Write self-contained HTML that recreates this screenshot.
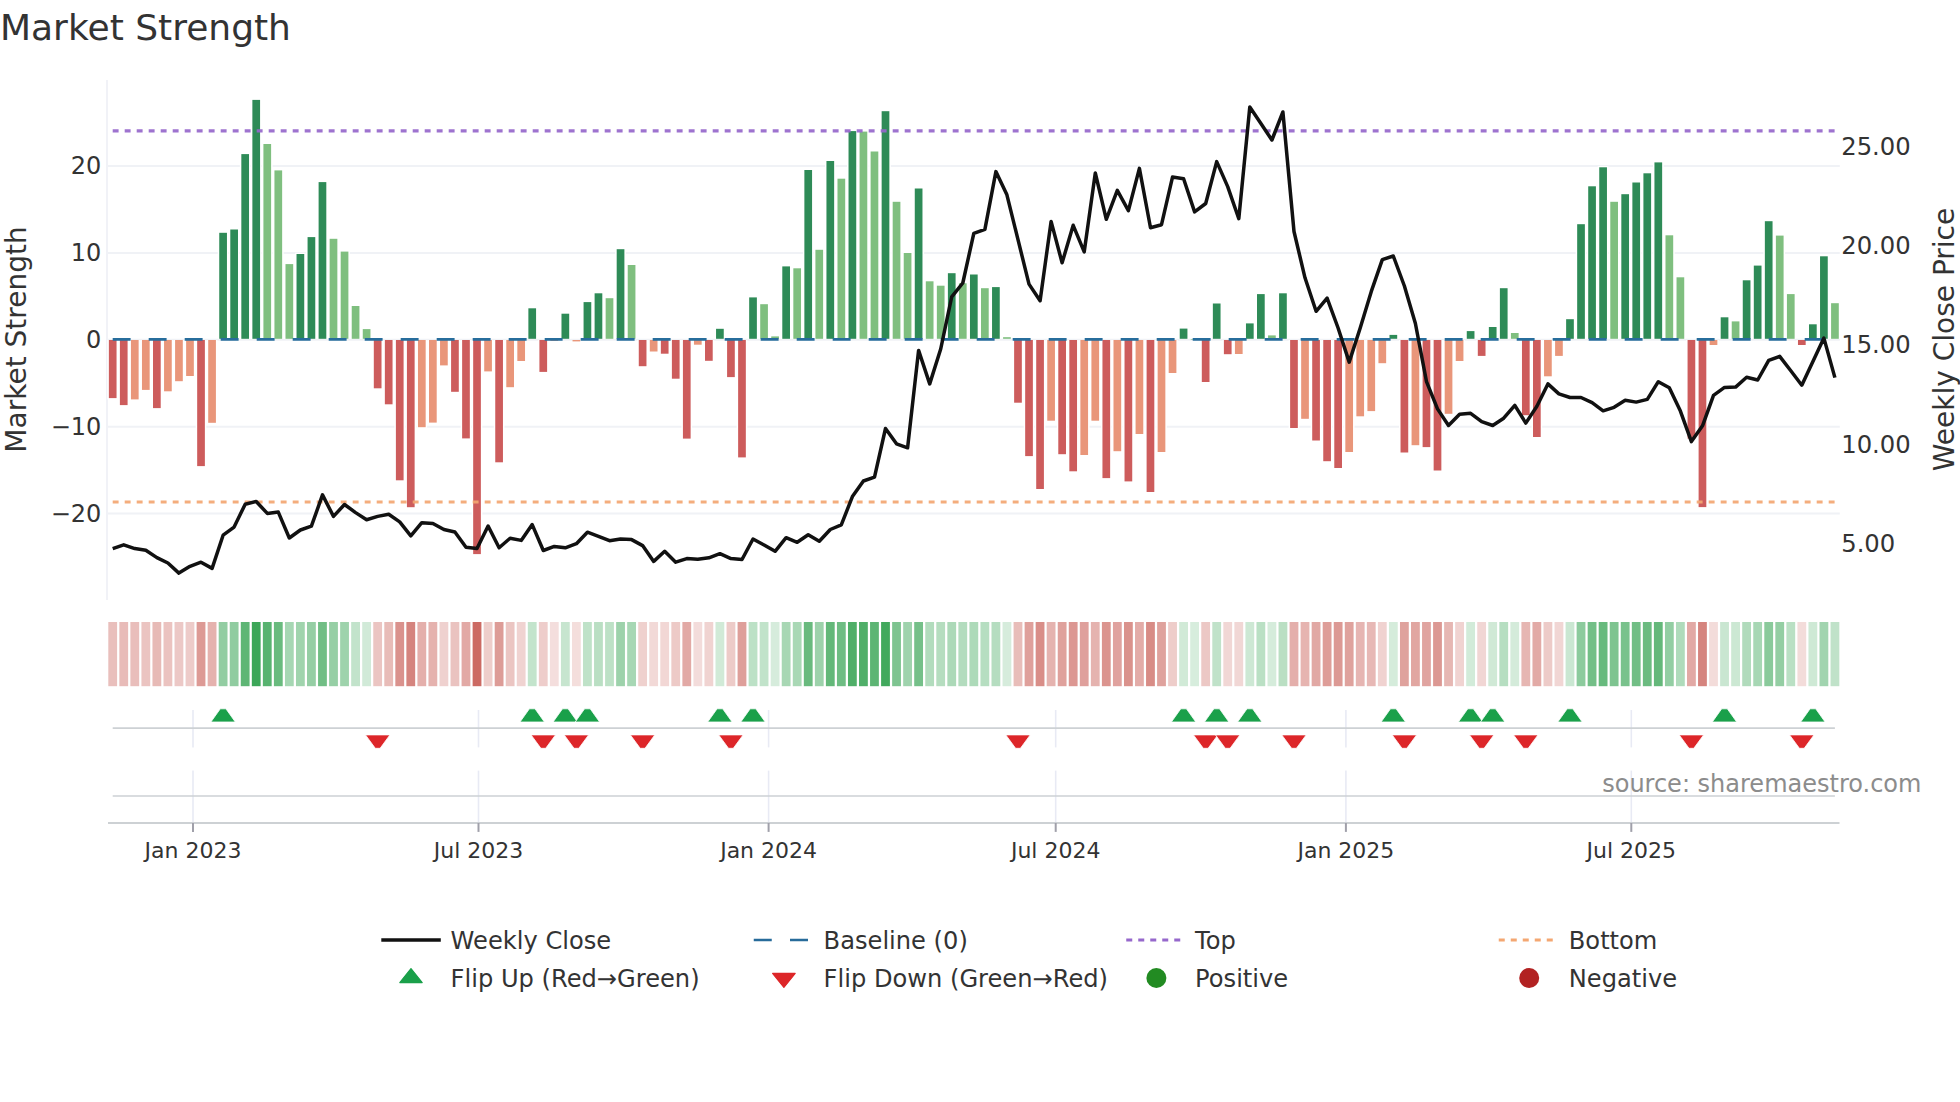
<!DOCTYPE html>
<html><head><meta charset="utf-8"><title>Market Strength</title>
<style>html,body{margin:0;padding:0;background:#fff}svg{display:block}text{font-family:"DejaVu Sans","Liberation Sans",sans-serif}</style></head><body>
<svg width="1960" height="1102" viewBox="0 0 1960 1102">
<rect width="1960" height="1102" fill="#fff"/>
<text x="0" y="40" font-size="36" fill="#333">Market Strength</text>
<line x1="108" x2="1839.8" y1="166.1" y2="166.1" stroke="#f0f2f6" stroke-width="2"/>
<line x1="108" x2="1839.8" y1="252.9" y2="252.9" stroke="#f0f2f6" stroke-width="2"/>
<line x1="108" x2="1839.8" y1="339.8" y2="339.8" stroke="#f0f2f6" stroke-width="2"/>
<line x1="108" x2="1839.8" y1="426.7" y2="426.7" stroke="#f0f2f6" stroke-width="2"/>
<line x1="108" x2="1839.8" y1="513.5" y2="513.5" stroke="#f0f2f6" stroke-width="2"/>
<line x1="107" x2="107" y1="80" y2="600" stroke="#f1f2f7" stroke-width="2"/>
<text x="101.4" y="174.1" font-size="24" fill="#333" text-anchor="end">20</text>
<text x="101.4" y="260.9" font-size="24" fill="#333" text-anchor="end">10</text>
<text x="101.4" y="347.8" font-size="24" fill="#333" text-anchor="end">0</text>
<text x="101.4" y="434.7" font-size="24" fill="#333" text-anchor="end">−10</text>
<text x="101.4" y="521.5" font-size="24" fill="#333" text-anchor="end">−20</text>
<text x="1841.2" y="154.9" font-size="24.3" fill="#333">25.00</text>
<text x="1841.2" y="253.8" font-size="24.3" fill="#333">20.00</text>
<text x="1841.2" y="352.9" font-size="24.3" fill="#333">15.00</text>
<text x="1841.2" y="452.9" font-size="24.3" fill="#333">10.00</text>
<text x="1841.2" y="551.9" font-size="24.3" fill="#333">5.00</text>
<text transform="translate(25.7,339.5) rotate(-90)" font-size="28" fill="#333" text-anchor="middle">Market Strength</text>
<text transform="translate(1953.9,339.5) rotate(-90)" font-size="28" fill="#333" text-anchor="middle">Weekly Close Price</text>
<rect x="107.35" y="340.0" width="10.7" height="59.3" fill="#fff"/>
<rect x="118.39" y="340.0" width="10.7" height="66.3" fill="#fff"/>
<rect x="129.43" y="340.0" width="10.7" height="60.6" fill="#fff"/>
<rect x="140.47" y="340.0" width="10.7" height="51.1" fill="#fff"/>
<rect x="151.51" y="340.0" width="10.7" height="69.3" fill="#fff"/>
<rect x="162.55" y="340.0" width="10.7" height="52.5" fill="#fff"/>
<rect x="173.59" y="340.0" width="10.7" height="42.4" fill="#fff"/>
<rect x="184.63" y="340.0" width="10.7" height="37.2" fill="#fff"/>
<rect x="195.67" y="340.0" width="10.7" height="127.3" fill="#fff"/>
<rect x="206.71" y="340.0" width="10.7" height="84.0" fill="#fff"/>
<rect x="217.75" y="231.6" width="10.7" height="107.2" fill="#fff"/>
<rect x="228.79" y="228.3" width="10.7" height="110.5" fill="#fff"/>
<rect x="239.83" y="152.9" width="10.7" height="185.9" fill="#fff"/>
<rect x="250.87" y="98.7" width="10.7" height="240.1" fill="#fff"/>
<rect x="261.91" y="142.8" width="10.7" height="196.0" fill="#fff"/>
<rect x="272.95" y="169.2" width="10.7" height="169.6" fill="#fff"/>
<rect x="283.99" y="262.9" width="10.7" height="75.9" fill="#fff"/>
<rect x="295.03" y="252.8" width="10.7" height="86.0" fill="#fff"/>
<rect x="306.07" y="235.9" width="10.7" height="102.9" fill="#fff"/>
<rect x="317.11" y="180.9" width="10.7" height="157.9" fill="#fff"/>
<rect x="328.15" y="237.6" width="10.7" height="101.2" fill="#fff"/>
<rect x="339.19" y="250.4" width="10.7" height="88.4" fill="#fff"/>
<rect x="350.23" y="304.8" width="10.7" height="34.0" fill="#fff"/>
<rect x="361.27" y="327.9" width="10.7" height="10.9" fill="#fff"/>
<rect x="372.31" y="340.0" width="10.7" height="49.5" fill="#fff"/>
<rect x="383.35" y="340.0" width="10.7" height="65.5" fill="#fff"/>
<rect x="394.39" y="340.0" width="10.7" height="141.5" fill="#fff"/>
<rect x="405.43" y="340.0" width="10.7" height="168.4" fill="#fff"/>
<rect x="416.47" y="340.0" width="10.7" height="88.4" fill="#fff"/>
<rect x="427.51" y="340.0" width="10.7" height="83.8" fill="#fff"/>
<rect x="438.55" y="340.0" width="10.7" height="26.6" fill="#fff"/>
<rect x="449.59" y="340.0" width="10.7" height="53.0" fill="#fff"/>
<rect x="460.63" y="340.0" width="10.7" height="99.6" fill="#fff"/>
<rect x="471.67" y="340.0" width="10.7" height="215.3" fill="#fff"/>
<rect x="482.71" y="340.0" width="10.7" height="32.6" fill="#fff"/>
<rect x="493.75" y="340.0" width="10.7" height="123.5" fill="#fff"/>
<rect x="504.79" y="340.0" width="10.7" height="48.4" fill="#fff"/>
<rect x="515.83" y="340.0" width="10.7" height="22.2" fill="#fff"/>
<rect x="526.87" y="307.1" width="10.7" height="31.7" fill="#fff"/>
<rect x="537.91" y="340.0" width="10.7" height="33.1" fill="#fff"/>
<rect x="559.99" y="312.5" width="10.7" height="26.3" fill="#fff"/>
<rect x="582.07" y="300.9" width="10.7" height="37.9" fill="#fff"/>
<rect x="593.11" y="292.1" width="10.7" height="46.7" fill="#fff"/>
<rect x="604.15" y="297.0" width="10.7" height="41.8" fill="#fff"/>
<rect x="615.19" y="248.0" width="10.7" height="90.8" fill="#fff"/>
<rect x="626.23" y="263.8" width="10.7" height="75.0" fill="#fff"/>
<rect x="637.27" y="340.0" width="10.7" height="27.4" fill="#fff"/>
<rect x="648.31" y="340.0" width="10.7" height="12.7" fill="#fff"/>
<rect x="659.35" y="340.0" width="10.7" height="14.9" fill="#fff"/>
<rect x="670.39" y="340.0" width="10.7" height="39.9" fill="#fff"/>
<rect x="681.43" y="340.0" width="10.7" height="99.8" fill="#fff"/>
<rect x="692.47" y="340.0" width="10.7" height="5.9" fill="#fff"/>
<rect x="703.51" y="340.0" width="10.7" height="22.0" fill="#fff"/>
<rect x="714.55" y="327.6" width="10.7" height="11.2" fill="#fff"/>
<rect x="725.59" y="340.0" width="10.7" height="38.3" fill="#fff"/>
<rect x="736.63" y="340.0" width="10.7" height="118.6" fill="#fff"/>
<rect x="747.67" y="296.2" width="10.7" height="42.6" fill="#fff"/>
<rect x="758.71" y="303.0" width="10.7" height="35.8" fill="#fff"/>
<rect x="769.75" y="335.2" width="10.7" height="3.6" fill="#fff"/>
<rect x="780.79" y="265.2" width="10.7" height="73.6" fill="#fff"/>
<rect x="791.83" y="267.1" width="10.7" height="71.7" fill="#fff"/>
<rect x="802.87" y="168.8" width="10.7" height="170.0" fill="#fff"/>
<rect x="813.91" y="248.6" width="10.7" height="90.2" fill="#fff"/>
<rect x="824.95" y="159.8" width="10.7" height="179.0" fill="#fff"/>
<rect x="835.99" y="177.5" width="10.7" height="161.3" fill="#fff"/>
<rect x="847.03" y="129.9" width="10.7" height="208.9" fill="#fff"/>
<rect x="858.07" y="130.4" width="10.7" height="208.4" fill="#fff"/>
<rect x="869.11" y="150.3" width="10.7" height="188.5" fill="#fff"/>
<rect x="880.15" y="110.0" width="10.7" height="228.8" fill="#fff"/>
<rect x="891.19" y="200.6" width="10.7" height="138.2" fill="#fff"/>
<rect x="902.23" y="251.8" width="10.7" height="87.0" fill="#fff"/>
<rect x="913.27" y="187.3" width="10.7" height="151.5" fill="#fff"/>
<rect x="924.31" y="280.1" width="10.7" height="58.7" fill="#fff"/>
<rect x="935.35" y="284.5" width="10.7" height="54.3" fill="#fff"/>
<rect x="946.39" y="272.0" width="10.7" height="66.8" fill="#fff"/>
<rect x="957.43" y="282.1" width="10.7" height="56.7" fill="#fff"/>
<rect x="968.47" y="273.3" width="10.7" height="65.5" fill="#fff"/>
<rect x="979.51" y="287.0" width="10.7" height="51.8" fill="#fff"/>
<rect x="990.55" y="285.9" width="10.7" height="52.9" fill="#fff"/>
<rect x="1012.63" y="340.0" width="10.7" height="63.9" fill="#fff"/>
<rect x="1023.67" y="340.0" width="10.7" height="117.3" fill="#fff"/>
<rect x="1034.71" y="340.0" width="10.7" height="150.2" fill="#fff"/>
<rect x="1045.75" y="340.0" width="10.7" height="81.9" fill="#fff"/>
<rect x="1056.79" y="340.0" width="10.7" height="115.4" fill="#fff"/>
<rect x="1067.83" y="340.0" width="10.7" height="132.5" fill="#fff"/>
<rect x="1078.87" y="340.0" width="10.7" height="116.2" fill="#fff"/>
<rect x="1089.91" y="340.0" width="10.7" height="81.9" fill="#fff"/>
<rect x="1100.95" y="340.0" width="10.7" height="139.3" fill="#fff"/>
<rect x="1111.99" y="340.0" width="10.7" height="112.4" fill="#fff"/>
<rect x="1123.03" y="340.0" width="10.7" height="142.6" fill="#fff"/>
<rect x="1134.07" y="340.0" width="10.7" height="95.2" fill="#fff"/>
<rect x="1145.11" y="340.0" width="10.7" height="153.2" fill="#fff"/>
<rect x="1156.15" y="340.0" width="10.7" height="113.2" fill="#fff"/>
<rect x="1167.19" y="340.0" width="10.7" height="34.2" fill="#fff"/>
<rect x="1178.23" y="327.4" width="10.7" height="11.4" fill="#fff"/>
<rect x="1200.31" y="340.0" width="10.7" height="43.2" fill="#fff"/>
<rect x="1211.35" y="302.3" width="10.7" height="36.5" fill="#fff"/>
<rect x="1222.39" y="340.0" width="10.7" height="15.4" fill="#fff"/>
<rect x="1233.43" y="340.0" width="10.7" height="15.2" fill="#fff"/>
<rect x="1244.47" y="322.2" width="10.7" height="16.6" fill="#fff"/>
<rect x="1255.51" y="292.9" width="10.7" height="45.9" fill="#fff"/>
<rect x="1266.55" y="334.2" width="10.7" height="4.6" fill="#fff"/>
<rect x="1277.59" y="292.1" width="10.7" height="46.7" fill="#fff"/>
<rect x="1288.63" y="340.0" width="10.7" height="89.2" fill="#fff"/>
<rect x="1299.67" y="340.0" width="10.7" height="80.0" fill="#fff"/>
<rect x="1310.71" y="340.0" width="10.7" height="101.7" fill="#fff"/>
<rect x="1321.75" y="340.0" width="10.7" height="122.4" fill="#fff"/>
<rect x="1332.79" y="340.0" width="10.7" height="129.2" fill="#fff"/>
<rect x="1343.83" y="340.0" width="10.7" height="113.2" fill="#fff"/>
<rect x="1354.87" y="340.0" width="10.7" height="77.5" fill="#fff"/>
<rect x="1365.91" y="340.0" width="10.7" height="72.3" fill="#fff"/>
<rect x="1376.95" y="340.0" width="10.7" height="24.4" fill="#fff"/>
<rect x="1387.99" y="333.7" width="10.7" height="5.1" fill="#fff"/>
<rect x="1399.03" y="340.0" width="10.7" height="113.7" fill="#fff"/>
<rect x="1410.07" y="340.0" width="10.7" height="106.4" fill="#fff"/>
<rect x="1421.11" y="340.0" width="10.7" height="108.3" fill="#fff"/>
<rect x="1432.15" y="340.0" width="10.7" height="131.7" fill="#fff"/>
<rect x="1443.19" y="340.0" width="10.7" height="75.0" fill="#fff"/>
<rect x="1454.23" y="340.0" width="10.7" height="22.2" fill="#fff"/>
<rect x="1465.27" y="329.9" width="10.7" height="8.9" fill="#fff"/>
<rect x="1476.31" y="340.0" width="10.7" height="17.1" fill="#fff"/>
<rect x="1487.35" y="325.8" width="10.7" height="13.0" fill="#fff"/>
<rect x="1498.39" y="287.0" width="10.7" height="51.8" fill="#fff"/>
<rect x="1509.43" y="331.8" width="10.7" height="7.0" fill="#fff"/>
<rect x="1520.47" y="340.0" width="10.7" height="76.4" fill="#fff"/>
<rect x="1531.51" y="340.0" width="10.7" height="98.2" fill="#fff"/>
<rect x="1542.55" y="340.0" width="10.7" height="37.5" fill="#fff"/>
<rect x="1553.59" y="340.0" width="10.7" height="17.1" fill="#fff"/>
<rect x="1564.63" y="318.0" width="10.7" height="20.8" fill="#fff"/>
<rect x="1575.67" y="223.0" width="10.7" height="115.8" fill="#fff"/>
<rect x="1586.71" y="185.1" width="10.7" height="153.7" fill="#fff"/>
<rect x="1597.75" y="166.1" width="10.7" height="172.7" fill="#fff"/>
<rect x="1608.79" y="200.6" width="10.7" height="138.2" fill="#fff"/>
<rect x="1619.83" y="193.0" width="10.7" height="145.8" fill="#fff"/>
<rect x="1630.87" y="181.3" width="10.7" height="157.5" fill="#fff"/>
<rect x="1641.91" y="172.1" width="10.7" height="166.7" fill="#fff"/>
<rect x="1652.95" y="161.2" width="10.7" height="177.6" fill="#fff"/>
<rect x="1663.99" y="234.1" width="10.7" height="104.7" fill="#fff"/>
<rect x="1675.03" y="276.1" width="10.7" height="62.7" fill="#fff"/>
<rect x="1686.07" y="340.0" width="10.7" height="99.8" fill="#fff"/>
<rect x="1697.11" y="340.0" width="10.7" height="168.3" fill="#fff"/>
<rect x="1708.15" y="340.0" width="10.7" height="6.2" fill="#fff"/>
<rect x="1719.19" y="316.1" width="10.7" height="22.7" fill="#fff"/>
<rect x="1730.23" y="320.2" width="10.7" height="18.6" fill="#fff"/>
<rect x="1741.27" y="279.1" width="10.7" height="59.7" fill="#fff"/>
<rect x="1752.31" y="264.4" width="10.7" height="74.4" fill="#fff"/>
<rect x="1763.35" y="220.0" width="10.7" height="118.8" fill="#fff"/>
<rect x="1774.39" y="234.4" width="10.7" height="104.4" fill="#fff"/>
<rect x="1785.43" y="292.9" width="10.7" height="45.9" fill="#fff"/>
<rect x="1796.47" y="340.0" width="10.7" height="6.2" fill="#fff"/>
<rect x="1807.51" y="323.1" width="10.7" height="15.7" fill="#fff"/>
<rect x="1818.55" y="255.1" width="10.7" height="83.7" fill="#fff"/>
<rect x="1829.59" y="302.0" width="10.7" height="36.8" fill="#fff"/>
<rect x="108.85" y="340.0" width="7.7" height="58.1" fill="#cd5c5c"/>
<rect x="119.89" y="340.0" width="7.7" height="65.1" fill="#cd5c5c"/>
<rect x="130.93" y="340.0" width="7.7" height="59.4" fill="#e9967a"/>
<rect x="141.97" y="340.0" width="7.7" height="49.9" fill="#e9967a"/>
<rect x="153.01" y="340.0" width="7.7" height="68.1" fill="#cd5c5c"/>
<rect x="164.05" y="340.0" width="7.7" height="51.3" fill="#e9967a"/>
<rect x="175.09" y="340.0" width="7.7" height="41.2" fill="#e9967a"/>
<rect x="186.13" y="340.0" width="7.7" height="36.0" fill="#e9967a"/>
<rect x="197.17" y="340.0" width="7.7" height="126.1" fill="#cd5c5c"/>
<rect x="208.21" y="340.0" width="7.7" height="82.8" fill="#e9967a"/>
<rect x="219.25" y="232.8" width="7.7" height="106.0" fill="#2e8b57"/>
<rect x="230.29" y="229.5" width="7.7" height="109.3" fill="#2e8b57"/>
<rect x="241.33" y="154.1" width="7.7" height="184.7" fill="#2e8b57"/>
<rect x="252.37" y="99.9" width="7.7" height="238.9" fill="#2e8b57"/>
<rect x="263.41" y="144.0" width="7.7" height="194.8" fill="#7fbf7f"/>
<rect x="274.45" y="170.4" width="7.7" height="168.4" fill="#7fbf7f"/>
<rect x="285.49" y="264.1" width="7.7" height="74.7" fill="#7fbf7f"/>
<rect x="296.53" y="254.0" width="7.7" height="84.8" fill="#2e8b57"/>
<rect x="307.57" y="237.1" width="7.7" height="101.7" fill="#2e8b57"/>
<rect x="318.61" y="182.1" width="7.7" height="156.7" fill="#2e8b57"/>
<rect x="329.65" y="238.8" width="7.7" height="100.0" fill="#7fbf7f"/>
<rect x="340.69" y="251.6" width="7.7" height="87.2" fill="#7fbf7f"/>
<rect x="351.73" y="306.0" width="7.7" height="32.8" fill="#7fbf7f"/>
<rect x="362.77" y="329.1" width="7.7" height="9.7" fill="#7fbf7f"/>
<rect x="373.81" y="340.0" width="7.7" height="48.3" fill="#cd5c5c"/>
<rect x="384.85" y="340.0" width="7.7" height="64.3" fill="#cd5c5c"/>
<rect x="395.89" y="340.0" width="7.7" height="140.3" fill="#cd5c5c"/>
<rect x="406.93" y="340.0" width="7.7" height="167.2" fill="#cd5c5c"/>
<rect x="417.97" y="340.0" width="7.7" height="87.2" fill="#e9967a"/>
<rect x="429.01" y="340.0" width="7.7" height="82.6" fill="#e9967a"/>
<rect x="440.05" y="340.0" width="7.7" height="25.4" fill="#e9967a"/>
<rect x="451.09" y="340.0" width="7.7" height="51.8" fill="#cd5c5c"/>
<rect x="462.13" y="340.0" width="7.7" height="98.4" fill="#cd5c5c"/>
<rect x="473.17" y="340.0" width="7.7" height="214.1" fill="#cd5c5c"/>
<rect x="484.21" y="340.0" width="7.7" height="31.4" fill="#e9967a"/>
<rect x="495.25" y="340.0" width="7.7" height="122.3" fill="#cd5c5c"/>
<rect x="506.29" y="340.0" width="7.7" height="47.2" fill="#e9967a"/>
<rect x="517.33" y="340.0" width="7.7" height="21.0" fill="#e9967a"/>
<rect x="528.37" y="308.3" width="7.7" height="30.5" fill="#2e8b57"/>
<rect x="539.41" y="340.0" width="7.7" height="31.9" fill="#cd5c5c"/>
<rect x="550.45" y="340.0" width="7.7" height="0.9" fill="#e9967a"/>
<rect x="561.49" y="313.7" width="7.7" height="25.1" fill="#2e8b57"/>
<rect x="572.53" y="340.0" width="7.7" height="1.4" fill="#e9967a"/>
<rect x="583.57" y="302.1" width="7.7" height="36.7" fill="#2e8b57"/>
<rect x="594.61" y="293.3" width="7.7" height="45.5" fill="#2e8b57"/>
<rect x="605.65" y="298.2" width="7.7" height="40.6" fill="#7fbf7f"/>
<rect x="616.69" y="249.2" width="7.7" height="89.6" fill="#2e8b57"/>
<rect x="627.73" y="265.0" width="7.7" height="73.8" fill="#7fbf7f"/>
<rect x="638.77" y="340.0" width="7.7" height="26.2" fill="#cd5c5c"/>
<rect x="649.81" y="340.0" width="7.7" height="11.5" fill="#e9967a"/>
<rect x="660.85" y="340.0" width="7.7" height="13.7" fill="#cd5c5c"/>
<rect x="671.89" y="340.0" width="7.7" height="38.7" fill="#cd5c5c"/>
<rect x="682.93" y="340.0" width="7.7" height="98.6" fill="#cd5c5c"/>
<rect x="693.97" y="340.0" width="7.7" height="4.7" fill="#e9967a"/>
<rect x="705.01" y="340.0" width="7.7" height="20.8" fill="#cd5c5c"/>
<rect x="716.05" y="328.8" width="7.7" height="10.0" fill="#2e8b57"/>
<rect x="727.09" y="340.0" width="7.7" height="37.1" fill="#cd5c5c"/>
<rect x="738.13" y="340.0" width="7.7" height="117.4" fill="#cd5c5c"/>
<rect x="749.17" y="297.4" width="7.7" height="41.4" fill="#2e8b57"/>
<rect x="760.21" y="304.2" width="7.7" height="34.6" fill="#7fbf7f"/>
<rect x="771.25" y="336.4" width="7.7" height="2.4" fill="#7fbf7f"/>
<rect x="782.29" y="266.4" width="7.7" height="72.4" fill="#2e8b57"/>
<rect x="793.33" y="268.3" width="7.7" height="70.5" fill="#7fbf7f"/>
<rect x="804.37" y="170.0" width="7.7" height="168.8" fill="#2e8b57"/>
<rect x="815.41" y="249.8" width="7.7" height="89.0" fill="#7fbf7f"/>
<rect x="826.45" y="161.0" width="7.7" height="177.8" fill="#2e8b57"/>
<rect x="837.49" y="178.7" width="7.7" height="160.1" fill="#7fbf7f"/>
<rect x="848.53" y="131.1" width="7.7" height="207.7" fill="#2e8b57"/>
<rect x="859.57" y="131.6" width="7.7" height="207.2" fill="#7fbf7f"/>
<rect x="870.61" y="151.5" width="7.7" height="187.3" fill="#7fbf7f"/>
<rect x="881.65" y="111.2" width="7.7" height="227.6" fill="#2e8b57"/>
<rect x="892.69" y="201.8" width="7.7" height="137.0" fill="#7fbf7f"/>
<rect x="903.73" y="253.0" width="7.7" height="85.8" fill="#7fbf7f"/>
<rect x="914.77" y="188.5" width="7.7" height="150.3" fill="#2e8b57"/>
<rect x="925.81" y="281.3" width="7.7" height="57.5" fill="#7fbf7f"/>
<rect x="936.85" y="285.7" width="7.7" height="53.1" fill="#7fbf7f"/>
<rect x="947.89" y="273.2" width="7.7" height="65.6" fill="#2e8b57"/>
<rect x="958.93" y="283.3" width="7.7" height="55.5" fill="#7fbf7f"/>
<rect x="969.97" y="274.5" width="7.7" height="64.3" fill="#2e8b57"/>
<rect x="981.01" y="288.2" width="7.7" height="50.6" fill="#7fbf7f"/>
<rect x="992.05" y="287.1" width="7.7" height="51.7" fill="#2e8b57"/>
<rect x="1003.09" y="337.2" width="7.7" height="1.6" fill="#7fbf7f"/>
<rect x="1014.13" y="340.0" width="7.7" height="62.7" fill="#cd5c5c"/>
<rect x="1025.17" y="340.0" width="7.7" height="116.1" fill="#cd5c5c"/>
<rect x="1036.21" y="340.0" width="7.7" height="149.0" fill="#cd5c5c"/>
<rect x="1047.25" y="340.0" width="7.7" height="80.7" fill="#e9967a"/>
<rect x="1058.29" y="340.0" width="7.7" height="114.2" fill="#cd5c5c"/>
<rect x="1069.33" y="340.0" width="7.7" height="131.3" fill="#cd5c5c"/>
<rect x="1080.37" y="340.0" width="7.7" height="115.0" fill="#e9967a"/>
<rect x="1091.41" y="340.0" width="7.7" height="80.7" fill="#e9967a"/>
<rect x="1102.45" y="340.0" width="7.7" height="138.1" fill="#cd5c5c"/>
<rect x="1113.49" y="340.0" width="7.7" height="111.2" fill="#e9967a"/>
<rect x="1124.53" y="340.0" width="7.7" height="141.4" fill="#cd5c5c"/>
<rect x="1135.57" y="340.0" width="7.7" height="94.0" fill="#e9967a"/>
<rect x="1146.61" y="340.0" width="7.7" height="152.0" fill="#cd5c5c"/>
<rect x="1157.65" y="340.0" width="7.7" height="112.0" fill="#e9967a"/>
<rect x="1168.69" y="340.0" width="7.7" height="33.0" fill="#e9967a"/>
<rect x="1179.73" y="328.6" width="7.7" height="10.2" fill="#2e8b57"/>
<rect x="1190.77" y="339.0" width="7.7" height="0.6" fill="#7fbf7f"/>
<rect x="1201.81" y="340.0" width="7.7" height="42.0" fill="#cd5c5c"/>
<rect x="1212.85" y="303.5" width="7.7" height="35.3" fill="#2e8b57"/>
<rect x="1223.89" y="340.0" width="7.7" height="14.2" fill="#cd5c5c"/>
<rect x="1234.93" y="340.0" width="7.7" height="14.0" fill="#e9967a"/>
<rect x="1245.97" y="323.4" width="7.7" height="15.4" fill="#2e8b57"/>
<rect x="1257.01" y="294.1" width="7.7" height="44.7" fill="#2e8b57"/>
<rect x="1268.05" y="335.4" width="7.7" height="3.4" fill="#7fbf7f"/>
<rect x="1279.09" y="293.3" width="7.7" height="45.5" fill="#2e8b57"/>
<rect x="1290.13" y="340.0" width="7.7" height="88.0" fill="#cd5c5c"/>
<rect x="1301.17" y="340.0" width="7.7" height="78.8" fill="#e9967a"/>
<rect x="1312.21" y="340.0" width="7.7" height="100.5" fill="#cd5c5c"/>
<rect x="1323.25" y="340.0" width="7.7" height="121.2" fill="#cd5c5c"/>
<rect x="1334.29" y="340.0" width="7.7" height="128.0" fill="#cd5c5c"/>
<rect x="1345.33" y="340.0" width="7.7" height="112.0" fill="#e9967a"/>
<rect x="1356.37" y="340.0" width="7.7" height="76.3" fill="#e9967a"/>
<rect x="1367.41" y="340.0" width="7.7" height="71.1" fill="#e9967a"/>
<rect x="1378.45" y="340.0" width="7.7" height="23.2" fill="#e9967a"/>
<rect x="1389.49" y="334.9" width="7.7" height="3.9" fill="#2e8b57"/>
<rect x="1400.53" y="340.0" width="7.7" height="112.5" fill="#cd5c5c"/>
<rect x="1411.57" y="340.0" width="7.7" height="105.2" fill="#e9967a"/>
<rect x="1422.61" y="340.0" width="7.7" height="107.1" fill="#cd5c5c"/>
<rect x="1433.65" y="340.0" width="7.7" height="130.5" fill="#cd5c5c"/>
<rect x="1444.69" y="340.0" width="7.7" height="73.8" fill="#e9967a"/>
<rect x="1455.73" y="340.0" width="7.7" height="21.0" fill="#e9967a"/>
<rect x="1466.77" y="331.1" width="7.7" height="7.7" fill="#2e8b57"/>
<rect x="1477.81" y="340.0" width="7.7" height="15.9" fill="#cd5c5c"/>
<rect x="1488.85" y="327.0" width="7.7" height="11.8" fill="#2e8b57"/>
<rect x="1499.89" y="288.2" width="7.7" height="50.6" fill="#2e8b57"/>
<rect x="1510.93" y="333.0" width="7.7" height="5.8" fill="#7fbf7f"/>
<rect x="1521.97" y="340.0" width="7.7" height="75.2" fill="#cd5c5c"/>
<rect x="1533.01" y="340.0" width="7.7" height="97.0" fill="#cd5c5c"/>
<rect x="1544.05" y="340.0" width="7.7" height="36.3" fill="#e9967a"/>
<rect x="1555.09" y="340.0" width="7.7" height="15.9" fill="#e9967a"/>
<rect x="1566.13" y="319.2" width="7.7" height="19.6" fill="#2e8b57"/>
<rect x="1577.17" y="224.2" width="7.7" height="114.6" fill="#2e8b57"/>
<rect x="1588.21" y="186.3" width="7.7" height="152.5" fill="#2e8b57"/>
<rect x="1599.25" y="167.3" width="7.7" height="171.5" fill="#2e8b57"/>
<rect x="1610.29" y="201.8" width="7.7" height="137.0" fill="#7fbf7f"/>
<rect x="1621.33" y="194.2" width="7.7" height="144.6" fill="#2e8b57"/>
<rect x="1632.37" y="182.5" width="7.7" height="156.3" fill="#2e8b57"/>
<rect x="1643.41" y="173.3" width="7.7" height="165.5" fill="#2e8b57"/>
<rect x="1654.45" y="162.4" width="7.7" height="176.4" fill="#2e8b57"/>
<rect x="1665.49" y="235.3" width="7.7" height="103.5" fill="#7fbf7f"/>
<rect x="1676.53" y="277.3" width="7.7" height="61.5" fill="#7fbf7f"/>
<rect x="1687.57" y="340.0" width="7.7" height="98.6" fill="#cd5c5c"/>
<rect x="1698.61" y="340.0" width="7.7" height="167.1" fill="#cd5c5c"/>
<rect x="1709.65" y="340.0" width="7.7" height="5.0" fill="#e9967a"/>
<rect x="1720.69" y="317.3" width="7.7" height="21.5" fill="#2e8b57"/>
<rect x="1731.73" y="321.4" width="7.7" height="17.4" fill="#7fbf7f"/>
<rect x="1742.77" y="280.3" width="7.7" height="58.5" fill="#2e8b57"/>
<rect x="1753.81" y="265.6" width="7.7" height="73.2" fill="#2e8b57"/>
<rect x="1764.85" y="221.2" width="7.7" height="117.6" fill="#2e8b57"/>
<rect x="1775.89" y="235.6" width="7.7" height="103.2" fill="#7fbf7f"/>
<rect x="1786.93" y="294.1" width="7.7" height="44.7" fill="#7fbf7f"/>
<rect x="1797.97" y="340.0" width="7.7" height="5.0" fill="#cd5c5c"/>
<rect x="1809.01" y="324.3" width="7.7" height="14.5" fill="#2e8b57"/>
<rect x="1820.05" y="256.3" width="7.7" height="82.5" fill="#2e8b57"/>
<rect x="1831.09" y="303.2" width="7.7" height="35.6" fill="#7fbf7f"/>
<line x1="112.7" x2="1834.9" y1="130.9" y2="130.9" stroke="#9668cc" stroke-width="3.2" stroke-dasharray="5.9 6.1" opacity="0.92"/>
<line x1="112.7" x2="1834.9" y1="502" y2="502" stroke="#f4a772" stroke-width="3.2" stroke-dasharray="5.9 6.1" opacity="0.92"/>
<line x1="112.7" x2="1834.9" y1="339.4" y2="339.4" stroke="#276d9c" stroke-width="2.6" stroke-dasharray="17.9 18.1"/>
<polyline points="112.7,548.6 123.7,544.8 134.8,548.6 145.8,550.2 156.9,557.6 167.9,563.0 178.9,573.1 190.0,566.3 201.0,562.2 212.1,568.4 223.1,535.2 234.1,527.1 245.2,504.2 256.2,501.5 267.3,513.4 278.3,512.1 289.3,538.0 300.4,530.0 311.4,526.2 322.5,494.9 333.5,516.4 344.5,504.5 355.6,512.6 366.6,519.7 377.7,516.4 388.7,514.3 399.7,521.9 410.8,535.8 421.8,522.7 432.9,523.5 443.9,529.5 454.9,532.0 466.0,547.2 477.0,548.6 488.1,526.0 499.1,547.8 510.1,538.2 521.2,540.4 532.2,524.6 543.3,550.5 554.3,546.4 565.3,547.8 576.4,543.7 587.4,532.2 598.5,536.3 609.5,540.7 620.5,539.0 631.6,539.6 642.6,545.6 653.7,561.4 664.7,551.3 675.7,562.2 686.8,558.6 697.8,559.2 708.9,557.8 719.9,553.7 730.9,558.6 742.0,559.5 753.0,539.0 764.1,545.0 775.1,551.3 786.1,537.7 797.2,542.3 808.2,534.7 819.3,541.2 830.3,529.5 841.3,524.9 852.4,496.6 863.4,481.0 874.5,477.2 885.5,428.5 896.5,443.8 907.6,447.8 918.6,350.4 929.7,383.9 940.7,349.0 951.7,296.9 962.8,283.0 973.8,233.4 984.9,229.3 995.9,171.6 1006.9,194.8 1018.0,239.7 1029.0,284.1 1040.1,300.7 1051.1,221.4 1062.1,262.8 1073.2,225.3 1084.2,251.9 1095.3,173.0 1106.3,219.3 1117.3,190.4 1128.4,210.6 1139.4,168.4 1150.5,227.7 1161.5,224.7 1172.5,177.1 1183.6,178.7 1194.6,211.9 1205.7,203.5 1216.7,161.6 1227.7,186.6 1238.8,218.7 1249.8,107.0 1260.9,123.5 1271.9,140.0 1282.9,112.0 1294.0,231.5 1305.0,277.8 1316.1,311.3 1327.1,298.2 1338.1,328.0 1349.2,362.1 1360.2,328.0 1371.3,291.4 1382.3,259.6 1393.3,256.0 1404.4,286.0 1415.4,323.5 1426.5,381.7 1437.5,408.9 1448.5,425.5 1459.6,414.3 1470.6,413.3 1481.7,421.7 1492.7,425.5 1503.7,418.2 1514.8,405.4 1525.8,423.1 1536.9,406.2 1547.9,383.9 1558.9,393.9 1570.0,397.5 1581.0,397.5 1592.1,402.6 1603.1,410.8 1614.1,407.3 1625.2,400.2 1636.2,402.1 1647.3,399.4 1658.3,381.7 1669.3,387.7 1680.4,411.1 1691.4,441.6 1702.5,425.8 1713.5,395.3 1724.5,387.4 1735.6,387.1 1746.6,377.3 1757.7,380.0 1768.7,360.4 1779.7,356.4 1790.8,370.8 1801.8,385.2 1812.9,361.5 1823.9,338.1 1834.9,377.6" fill="none" stroke="#111" stroke-width="3.5" stroke-linejoin="round" stroke-linecap="butt"/>
<rect x="108.30" y="622" width="8.8" height="64.2" fill="rgb(233,191,188)"/>
<rect x="119.34" y="622" width="8.8" height="64.2" fill="rgb(232,187,184)"/>
<rect x="130.38" y="622" width="8.8" height="64.2" fill="rgb(233,190,187)"/>
<rect x="141.42" y="622" width="8.8" height="64.2" fill="rgb(235,196,193)"/>
<rect x="152.46" y="622" width="8.8" height="64.2" fill="rgb(231,186,182)"/>
<rect x="163.50" y="622" width="8.8" height="64.2" fill="rgb(235,195,192)"/>
<rect x="174.54" y="622" width="8.8" height="64.2" fill="rgb(236,200,198)"/>
<rect x="185.58" y="622" width="8.8" height="64.2" fill="rgb(237,203,201)"/>
<rect x="196.62" y="622" width="8.8" height="64.2" fill="rgb(221,154,149)"/>
<rect x="207.66" y="622" width="8.8" height="64.2" fill="rgb(229,178,174)"/>
<rect x="218.70" y="622" width="8.8" height="64.2" fill="rgb(146,205,162)"/>
<rect x="229.74" y="622" width="8.8" height="64.2" fill="rgb(144,204,160)"/>
<rect x="240.78" y="622" width="8.8" height="64.2" fill="rgb(94,182,117)"/>
<rect x="251.82" y="622" width="8.8" height="64.2" fill="rgb(60,166,88)"/>
<rect x="262.86" y="622" width="8.8" height="64.2" fill="rgb(88,179,112)"/>
<rect x="273.90" y="622" width="8.8" height="64.2" fill="rgb(105,187,126)"/>
<rect x="284.94" y="622" width="8.8" height="64.2" fill="rgb(166,215,179)"/>
<rect x="295.98" y="622" width="8.8" height="64.2" fill="rgb(160,212,173)"/>
<rect x="307.02" y="622" width="8.8" height="64.2" fill="rgb(149,206,164)"/>
<rect x="318.06" y="622" width="8.8" height="64.2" fill="rgb(113,190,133)"/>
<rect x="329.10" y="622" width="8.8" height="64.2" fill="rgb(150,207,165)"/>
<rect x="340.14" y="622" width="8.8" height="64.2" fill="rgb(158,211,172)"/>
<rect x="351.18" y="622" width="8.8" height="64.2" fill="rgb(194,227,203)"/>
<rect x="362.22" y="622" width="8.8" height="64.2" fill="rgb(209,234,216)"/>
<rect x="373.26" y="622" width="8.8" height="64.2" fill="rgb(235,197,194)"/>
<rect x="384.30" y="622" width="8.8" height="64.2" fill="rgb(232,188,184)"/>
<rect x="395.34" y="622" width="8.8" height="64.2" fill="rgb(218,146,141)"/>
<rect x="406.38" y="622" width="8.8" height="64.2" fill="rgb(213,132,126)"/>
<rect x="417.42" y="622" width="8.8" height="64.2" fill="rgb(228,175,171)"/>
<rect x="428.46" y="622" width="8.8" height="64.2" fill="rgb(229,178,174)"/>
<rect x="439.50" y="622" width="8.8" height="64.2" fill="rgb(239,209,207)"/>
<rect x="450.54" y="622" width="8.8" height="64.2" fill="rgb(234,195,192)"/>
<rect x="461.58" y="622" width="8.8" height="64.2" fill="rgb(226,169,165)"/>
<rect x="472.62" y="622" width="8.8" height="64.2" fill="rgb(204,106,99)"/>
<rect x="483.66" y="622" width="8.8" height="64.2" fill="rgb(238,206,203)"/>
<rect x="494.70" y="622" width="8.8" height="64.2" fill="rgb(221,156,151)"/>
<rect x="505.74" y="622" width="8.8" height="64.2" fill="rgb(235,197,194)"/>
<rect x="516.78" y="622" width="8.8" height="64.2" fill="rgb(240,211,209)"/>
<rect x="527.82" y="622" width="8.8" height="64.2" fill="rgb(195,228,204)"/>
<rect x="538.86" y="622" width="8.8" height="64.2" fill="rgb(238,205,203)"/>
<rect x="549.90" y="622" width="8.8" height="64.2" fill="rgb(244,222,221)"/>
<rect x="560.94" y="622" width="8.8" height="64.2" fill="rgb(199,229,207)"/>
<rect x="571.98" y="622" width="8.8" height="64.2" fill="rgb(244,222,220)"/>
<rect x="583.02" y="622" width="8.8" height="64.2" fill="rgb(191,226,200)"/>
<rect x="594.06" y="622" width="8.8" height="64.2" fill="rgb(186,223,195)"/>
<rect x="605.10" y="622" width="8.8" height="64.2" fill="rgb(189,225,198)"/>
<rect x="616.14" y="622" width="8.8" height="64.2" fill="rgb(157,210,171)"/>
<rect x="627.18" y="622" width="8.8" height="64.2" fill="rgb(167,215,180)"/>
<rect x="638.22" y="622" width="8.8" height="64.2" fill="rgb(239,209,206)"/>
<rect x="649.26" y="622" width="8.8" height="64.2" fill="rgb(242,217,215)"/>
<rect x="660.30" y="622" width="8.8" height="64.2" fill="rgb(242,215,213)"/>
<rect x="671.34" y="622" width="8.8" height="64.2" fill="rgb(237,202,199)"/>
<rect x="682.38" y="622" width="8.8" height="64.2" fill="rgb(226,169,165)"/>
<rect x="693.42" y="622" width="8.8" height="64.2" fill="rgb(243,220,219)"/>
<rect x="704.46" y="622" width="8.8" height="64.2" fill="rgb(240,211,209)"/>
<rect x="715.50" y="622" width="8.8" height="64.2" fill="rgb(209,234,215)"/>
<rect x="726.54" y="622" width="8.8" height="64.2" fill="rgb(237,203,200)"/>
<rect x="737.58" y="622" width="8.8" height="64.2" fill="rgb(222,159,154)"/>
<rect x="748.62" y="622" width="8.8" height="64.2" fill="rgb(188,225,198)"/>
<rect x="759.66" y="622" width="8.8" height="64.2" fill="rgb(193,227,202)"/>
<rect x="770.70" y="622" width="8.8" height="64.2" fill="rgb(214,236,220)"/>
<rect x="781.74" y="622" width="8.8" height="64.2" fill="rgb(168,215,180)"/>
<rect x="792.78" y="622" width="8.8" height="64.2" fill="rgb(169,216,181)"/>
<rect x="803.82" y="622" width="8.8" height="64.2" fill="rgb(105,186,126)"/>
<rect x="814.86" y="622" width="8.8" height="64.2" fill="rgb(157,210,171)"/>
<rect x="825.90" y="622" width="8.8" height="64.2" fill="rgb(99,184,121)"/>
<rect x="836.94" y="622" width="8.8" height="64.2" fill="rgb(110,189,131)"/>
<rect x="847.98" y="622" width="8.8" height="64.2" fill="rgb(79,175,104)"/>
<rect x="859.02" y="622" width="8.8" height="64.2" fill="rgb(80,175,105)"/>
<rect x="870.06" y="622" width="8.8" height="64.2" fill="rgb(93,181,116)"/>
<rect x="881.10" y="622" width="8.8" height="64.2" fill="rgb(66,169,93)"/>
<rect x="892.14" y="622" width="8.8" height="64.2" fill="rgb(126,196,144)"/>
<rect x="903.18" y="622" width="8.8" height="64.2" fill="rgb(159,211,173)"/>
<rect x="914.22" y="622" width="8.8" height="64.2" fill="rgb(117,192,137)"/>
<rect x="925.26" y="622" width="8.8" height="64.2" fill="rgb(178,220,189)"/>
<rect x="936.30" y="622" width="8.8" height="64.2" fill="rgb(181,221,191)"/>
<rect x="947.34" y="622" width="8.8" height="64.2" fill="rgb(172,217,184)"/>
<rect x="958.38" y="622" width="8.8" height="64.2" fill="rgb(179,220,190)"/>
<rect x="969.42" y="622" width="8.8" height="64.2" fill="rgb(173,218,185)"/>
<rect x="980.46" y="622" width="8.8" height="64.2" fill="rgb(182,222,193)"/>
<rect x="991.50" y="622" width="8.8" height="64.2" fill="rgb(181,221,192)"/>
<rect x="1002.54" y="622" width="8.8" height="64.2" fill="rgb(214,236,220)"/>
<rect x="1013.58" y="622" width="8.8" height="64.2" fill="rgb(232,189,185)"/>
<rect x="1024.62" y="622" width="8.8" height="64.2" fill="rgb(223,160,155)"/>
<rect x="1035.66" y="622" width="8.8" height="64.2" fill="rgb(217,142,136)"/>
<rect x="1046.70" y="622" width="8.8" height="64.2" fill="rgb(229,179,175)"/>
<rect x="1057.74" y="622" width="8.8" height="64.2" fill="rgb(223,161,156)"/>
<rect x="1068.78" y="622" width="8.8" height="64.2" fill="rgb(220,151,146)"/>
<rect x="1079.82" y="622" width="8.8" height="64.2" fill="rgb(223,160,156)"/>
<rect x="1090.86" y="622" width="8.8" height="64.2" fill="rgb(229,179,175)"/>
<rect x="1101.90" y="622" width="8.8" height="64.2" fill="rgb(219,148,142)"/>
<rect x="1112.94" y="622" width="8.8" height="64.2" fill="rgb(224,162,158)"/>
<rect x="1123.98" y="622" width="8.8" height="64.2" fill="rgb(218,146,140)"/>
<rect x="1135.02" y="622" width="8.8" height="64.2" fill="rgb(227,172,168)"/>
<rect x="1146.06" y="622" width="8.8" height="64.2" fill="rgb(216,140,134)"/>
<rect x="1157.10" y="622" width="8.8" height="64.2" fill="rgb(223,162,157)"/>
<rect x="1168.14" y="622" width="8.8" height="64.2" fill="rgb(238,205,202)"/>
<rect x="1179.18" y="622" width="8.8" height="64.2" fill="rgb(209,234,215)"/>
<rect x="1190.22" y="622" width="8.8" height="64.2" fill="rgb(215,237,221)"/>
<rect x="1201.26" y="622" width="8.8" height="64.2" fill="rgb(236,200,197)"/>
<rect x="1212.30" y="622" width="8.8" height="64.2" fill="rgb(192,226,201)"/>
<rect x="1223.34" y="622" width="8.8" height="64.2" fill="rgb(241,215,213)"/>
<rect x="1234.38" y="622" width="8.8" height="64.2" fill="rgb(241,215,213)"/>
<rect x="1245.42" y="622" width="8.8" height="64.2" fill="rgb(205,232,212)"/>
<rect x="1256.46" y="622" width="8.8" height="64.2" fill="rgb(186,224,196)"/>
<rect x="1267.50" y="622" width="8.8" height="64.2" fill="rgb(213,236,219)"/>
<rect x="1278.54" y="622" width="8.8" height="64.2" fill="rgb(186,223,195)"/>
<rect x="1289.58" y="622" width="8.8" height="64.2" fill="rgb(228,175,171)"/>
<rect x="1300.62" y="622" width="8.8" height="64.2" fill="rgb(230,180,176)"/>
<rect x="1311.66" y="622" width="8.8" height="64.2" fill="rgb(225,168,164)"/>
<rect x="1322.70" y="622" width="8.8" height="64.2" fill="rgb(222,157,152)"/>
<rect x="1333.74" y="622" width="8.8" height="64.2" fill="rgb(220,153,148)"/>
<rect x="1344.78" y="622" width="8.8" height="64.2" fill="rgb(223,162,157)"/>
<rect x="1355.82" y="622" width="8.8" height="64.2" fill="rgb(230,181,178)"/>
<rect x="1366.86" y="622" width="8.8" height="64.2" fill="rgb(231,184,181)"/>
<rect x="1377.90" y="622" width="8.8" height="64.2" fill="rgb(240,210,208)"/>
<rect x="1388.94" y="622" width="8.8" height="64.2" fill="rgb(213,236,219)"/>
<rect x="1399.98" y="622" width="8.8" height="64.2" fill="rgb(223,162,157)"/>
<rect x="1411.02" y="622" width="8.8" height="64.2" fill="rgb(225,166,161)"/>
<rect x="1422.06" y="622" width="8.8" height="64.2" fill="rgb(224,164,160)"/>
<rect x="1433.10" y="622" width="8.8" height="64.2" fill="rgb(220,152,147)"/>
<rect x="1444.14" y="622" width="8.8" height="64.2" fill="rgb(230,183,179)"/>
<rect x="1455.18" y="622" width="8.8" height="64.2" fill="rgb(240,211,209)"/>
<rect x="1466.22" y="622" width="8.8" height="64.2" fill="rgb(210,235,217)"/>
<rect x="1477.26" y="622" width="8.8" height="64.2" fill="rgb(241,214,212)"/>
<rect x="1488.30" y="622" width="8.8" height="64.2" fill="rgb(208,233,214)"/>
<rect x="1499.34" y="622" width="8.8" height="64.2" fill="rgb(182,222,193)"/>
<rect x="1510.38" y="622" width="8.8" height="64.2" fill="rgb(212,235,218)"/>
<rect x="1521.42" y="622" width="8.8" height="64.2" fill="rgb(230,182,178)"/>
<rect x="1532.46" y="622" width="8.8" height="64.2" fill="rgb(226,170,166)"/>
<rect x="1543.50" y="622" width="8.8" height="64.2" fill="rgb(237,203,200)"/>
<rect x="1554.54" y="622" width="8.8" height="64.2" fill="rgb(241,214,212)"/>
<rect x="1565.58" y="622" width="8.8" height="64.2" fill="rgb(202,231,210)"/>
<rect x="1576.62" y="622" width="8.8" height="64.2" fill="rgb(140,203,157)"/>
<rect x="1587.66" y="622" width="8.8" height="64.2" fill="rgb(115,191,135)"/>
<rect x="1598.70" y="622" width="8.8" height="64.2" fill="rgb(103,186,125)"/>
<rect x="1609.74" y="622" width="8.8" height="64.2" fill="rgb(126,196,144)"/>
<rect x="1620.78" y="622" width="8.8" height="64.2" fill="rgb(121,194,140)"/>
<rect x="1631.82" y="622" width="8.8" height="64.2" fill="rgb(113,190,133)"/>
<rect x="1642.86" y="622" width="8.8" height="64.2" fill="rgb(107,187,128)"/>
<rect x="1653.90" y="622" width="8.8" height="64.2" fill="rgb(100,184,122)"/>
<rect x="1664.94" y="622" width="8.8" height="64.2" fill="rgb(147,206,163)"/>
<rect x="1675.98" y="622" width="8.8" height="64.2" fill="rgb(175,219,187)"/>
<rect x="1687.02" y="622" width="8.8" height="64.2" fill="rgb(226,169,165)"/>
<rect x="1698.06" y="622" width="8.8" height="64.2" fill="rgb(213,132,126)"/>
<rect x="1709.10" y="622" width="8.8" height="64.2" fill="rgb(243,220,218)"/>
<rect x="1720.14" y="622" width="8.8" height="64.2" fill="rgb(201,230,209)"/>
<rect x="1731.18" y="622" width="8.8" height="64.2" fill="rgb(204,232,211)"/>
<rect x="1742.22" y="622" width="8.8" height="64.2" fill="rgb(177,219,188)"/>
<rect x="1753.26" y="622" width="8.8" height="64.2" fill="rgb(167,215,180)"/>
<rect x="1764.30" y="622" width="8.8" height="64.2" fill="rgb(138,202,155)"/>
<rect x="1775.34" y="622" width="8.8" height="64.2" fill="rgb(148,206,163)"/>
<rect x="1786.38" y="622" width="8.8" height="64.2" fill="rgb(186,224,196)"/>
<rect x="1797.42" y="622" width="8.8" height="64.2" fill="rgb(243,220,218)"/>
<rect x="1808.46" y="622" width="8.8" height="64.2" fill="rgb(206,233,213)"/>
<rect x="1819.50" y="622" width="8.8" height="64.2" fill="rgb(161,212,175)"/>
<rect x="1830.54" y="622" width="8.8" height="64.2" fill="rgb(192,226,201)"/>
<line x1="193.0" x2="193.0" y1="710" y2="747.4" stroke="#e8eaf4" stroke-width="1.6"/>
<line x1="193.0" x2="193.0" y1="770.6" y2="822" stroke="#e8eaf4" stroke-width="1.6"/>
<line x1="478.5" x2="478.5" y1="710" y2="747.4" stroke="#e8eaf4" stroke-width="1.6"/>
<line x1="478.5" x2="478.5" y1="770.6" y2="822" stroke="#e8eaf4" stroke-width="1.6"/>
<line x1="768.6" x2="768.6" y1="710" y2="747.4" stroke="#e8eaf4" stroke-width="1.6"/>
<line x1="768.6" x2="768.6" y1="770.6" y2="822" stroke="#e8eaf4" stroke-width="1.6"/>
<line x1="1055.7" x2="1055.7" y1="710" y2="747.4" stroke="#e8eaf4" stroke-width="1.6"/>
<line x1="1055.7" x2="1055.7" y1="770.6" y2="822" stroke="#e8eaf4" stroke-width="1.6"/>
<line x1="1345.9" x2="1345.9" y1="710" y2="747.4" stroke="#e8eaf4" stroke-width="1.6"/>
<line x1="1345.9" x2="1345.9" y1="770.6" y2="822" stroke="#e8eaf4" stroke-width="1.6"/>
<line x1="1631.3" x2="1631.3" y1="710" y2="747.4" stroke="#e8eaf4" stroke-width="1.6"/>
<line x1="1631.3" x2="1631.3" y1="770.6" y2="822" stroke="#e8eaf4" stroke-width="1.6"/>
<line x1="112.7" x2="1834.9" y1="728.1" y2="728.1" stroke="#cdd1d4" stroke-width="1.7"/>
<line x1="112.7" x2="1834.9" y1="796" y2="796" stroke="#cdd1d4" stroke-width="1.7"/>
<line x1="108" x2="1839.5" y1="823" y2="823" stroke="#cdd1d4" stroke-width="2"/>
<line x1="193.0" x2="193.0" y1="823" y2="831.9" stroke="#a0a0aa" stroke-width="2"/>
<line x1="478.5" x2="478.5" y1="823" y2="831.9" stroke="#a0a0aa" stroke-width="2"/>
<line x1="768.6" x2="768.6" y1="823" y2="831.9" stroke="#a0a0aa" stroke-width="2"/>
<line x1="1055.7" x2="1055.7" y1="823" y2="831.9" stroke="#a0a0aa" stroke-width="2"/>
<line x1="1345.9" x2="1345.9" y1="823" y2="831.9" stroke="#a0a0aa" stroke-width="2"/>
<line x1="1631.3" x2="1631.3" y1="823" y2="831.9" stroke="#a0a0aa" stroke-width="2"/>
<text x="193.0" y="857.6" font-size="22" fill="#333" text-anchor="middle">Jan 2023</text>
<text x="478.5" y="857.6" font-size="22" fill="#333" text-anchor="middle">Jul 2023</text>
<text x="768.6" y="857.6" font-size="22" fill="#333" text-anchor="middle">Jan 2024</text>
<text x="1055.7" y="857.6" font-size="22" fill="#333" text-anchor="middle">Jul 2024</text>
<text x="1345.9" y="857.6" font-size="22" fill="#333" text-anchor="middle">Jan 2025</text>
<text x="1631.3" y="857.6" font-size="22" fill="#333" text-anchor="middle">Jul 2025</text>
<path d="M220.3 708.8 L225.9 708.8 L235.3 722 L210.9 722 Z" fill="#1aa04a" stroke="#fff" stroke-width="0.8"/>
<path d="M529.4 708.8 L535.0 708.8 L544.4 722 L520.0 722 Z" fill="#1aa04a" stroke="#fff" stroke-width="0.8"/>
<path d="M562.5 708.8 L568.1 708.8 L577.5 722 L553.1 722 Z" fill="#1aa04a" stroke="#fff" stroke-width="0.8"/>
<path d="M584.6 708.8 L590.2 708.8 L599.6 722 L575.2 722 Z" fill="#1aa04a" stroke="#fff" stroke-width="0.8"/>
<path d="M717.1 708.8 L722.7 708.8 L732.1 722 L707.7 722 Z" fill="#1aa04a" stroke="#fff" stroke-width="0.8"/>
<path d="M750.2 708.8 L755.8 708.8 L765.2 722 L740.8 722 Z" fill="#1aa04a" stroke="#fff" stroke-width="0.8"/>
<path d="M1180.8 708.8 L1186.4 708.8 L1195.8 722 L1171.4 722 Z" fill="#1aa04a" stroke="#fff" stroke-width="0.8"/>
<path d="M1213.9 708.8 L1219.5 708.8 L1228.9 722 L1204.5 722 Z" fill="#1aa04a" stroke="#fff" stroke-width="0.8"/>
<path d="M1247.0 708.8 L1252.6 708.8 L1262.0 722 L1237.6 722 Z" fill="#1aa04a" stroke="#fff" stroke-width="0.8"/>
<path d="M1390.5 708.8 L1396.1 708.8 L1405.5 722 L1381.1 722 Z" fill="#1aa04a" stroke="#fff" stroke-width="0.8"/>
<path d="M1467.8 708.8 L1473.4 708.8 L1482.8 722 L1458.4 722 Z" fill="#1aa04a" stroke="#fff" stroke-width="0.8"/>
<path d="M1489.9 708.8 L1495.5 708.8 L1504.9 722 L1480.5 722 Z" fill="#1aa04a" stroke="#fff" stroke-width="0.8"/>
<path d="M1567.2 708.8 L1572.8 708.8 L1582.2 722 L1557.8 722 Z" fill="#1aa04a" stroke="#fff" stroke-width="0.8"/>
<path d="M1721.7 708.8 L1727.3 708.8 L1736.7 722 L1712.3 722 Z" fill="#1aa04a" stroke="#fff" stroke-width="0.8"/>
<path d="M1810.1 708.8 L1815.7 708.8 L1825.1 722 L1800.7 722 Z" fill="#1aa04a" stroke="#fff" stroke-width="0.8"/>
<path d="M375.3 748.3 L380.1 748.3 L389.9 734.9 L365.5 734.9 Z" fill="#dd2629" stroke="#fff" stroke-width="0.8"/>
<path d="M540.9 748.3 L545.7 748.3 L555.5 734.9 L531.1 734.9 Z" fill="#dd2629" stroke="#fff" stroke-width="0.8"/>
<path d="M574.0 748.3 L578.8 748.3 L588.6 734.9 L564.2 734.9 Z" fill="#dd2629" stroke="#fff" stroke-width="0.8"/>
<path d="M640.2 748.3 L645.0 748.3 L654.8 734.9 L630.4 734.9 Z" fill="#dd2629" stroke="#fff" stroke-width="0.8"/>
<path d="M728.5 748.3 L733.3 748.3 L743.1 734.9 L718.7 734.9 Z" fill="#dd2629" stroke="#fff" stroke-width="0.8"/>
<path d="M1015.6 748.3 L1020.4 748.3 L1030.2 734.9 L1005.8 734.9 Z" fill="#dd2629" stroke="#fff" stroke-width="0.8"/>
<path d="M1203.3 748.3 L1208.1 748.3 L1217.9 734.9 L1193.5 734.9 Z" fill="#dd2629" stroke="#fff" stroke-width="0.8"/>
<path d="M1225.3 748.3 L1230.1 748.3 L1239.9 734.9 L1215.5 734.9 Z" fill="#dd2629" stroke="#fff" stroke-width="0.8"/>
<path d="M1291.6 748.3 L1296.4 748.3 L1306.2 734.9 L1281.8 734.9 Z" fill="#dd2629" stroke="#fff" stroke-width="0.8"/>
<path d="M1402.0 748.3 L1406.8 748.3 L1416.6 734.9 L1392.2 734.9 Z" fill="#dd2629" stroke="#fff" stroke-width="0.8"/>
<path d="M1479.3 748.3 L1484.1 748.3 L1493.9 734.9 L1469.5 734.9 Z" fill="#dd2629" stroke="#fff" stroke-width="0.8"/>
<path d="M1523.4 748.3 L1528.2 748.3 L1538.0 734.9 L1513.6 734.9 Z" fill="#dd2629" stroke="#fff" stroke-width="0.8"/>
<path d="M1689.0 748.3 L1693.8 748.3 L1703.6 734.9 L1679.2 734.9 Z" fill="#dd2629" stroke="#fff" stroke-width="0.8"/>
<path d="M1799.4 748.3 L1804.2 748.3 L1814.0 734.9 L1789.6 734.9 Z" fill="#dd2629" stroke="#fff" stroke-width="0.8"/>
<text x="1921.4" y="791.9" font-size="24" fill="#8c8c8c" text-anchor="end">source: sharemaestro.com</text>
<line x1="381.3" x2="440.8" y1="940" y2="940" stroke="#111" stroke-width="3.6"/>
<line x1="753.75" x2="808" y1="940" y2="940" stroke="#276b9a" stroke-width="2.5" stroke-dasharray="18 18.25"/>
<line x1="1126.25" x2="1181.25" y1="940" y2="940" stroke="#9668cc" stroke-width="3.2" stroke-dasharray="6 6"/>
<line x1="1498.75" x2="1553.75" y1="940" y2="940" stroke="#f4a772" stroke-width="3.2" stroke-dasharray="6 6"/>
<text x="450.6" y="948.75" font-size="24.15" fill="#333">Weekly Close</text>
<text x="823.6" y="948.75" font-size="24.15" fill="#333">Baseline (0)</text>
<text x="1195.1" y="948.75" font-size="24.15" fill="#333">Top</text>
<text x="1568.8" y="948.75" font-size="24.15" fill="#333">Bottom</text>
<text x="450.6" y="987" font-size="24.15" fill="#333">Flip Up (Red→Green)</text>
<text x="823.6" y="987" font-size="24.15" fill="#333">Flip Down (Green→Red)</text>
<text x="1195.1" y="987" font-size="24.15" fill="#333">Positive</text>
<text x="1568.8" y="987" font-size="24.15" fill="#333">Negative</text>
<path d="M411 968.6 L422.2 982.6 L399.8 982.6 Z" fill="#1aa04a" stroke="#1aa04a" stroke-width="1.2" stroke-linejoin="round"/>
<path d="M783.9 987.4 L795.2 973.4 L772.6 973.4 Z" fill="#dd2628" stroke="#dd2628" stroke-width="1.2" stroke-linejoin="round"/>
<circle cx="1156.4" cy="978" r="10" fill="#228b22"/>
<circle cx="1529.2" cy="978" r="10" fill="#b22222"/>
</svg></body></html>
